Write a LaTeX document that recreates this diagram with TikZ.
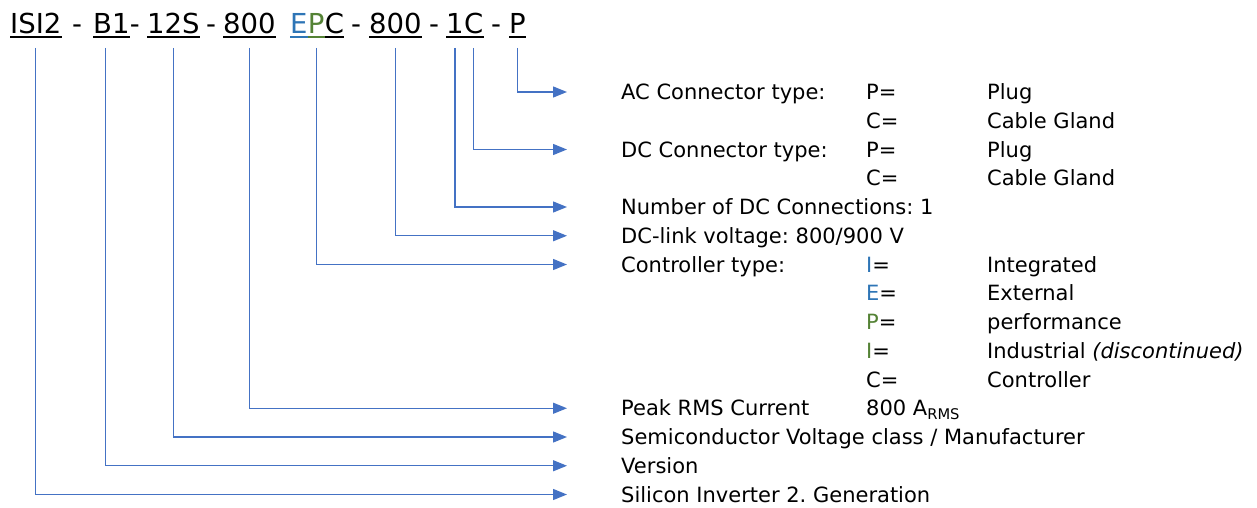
\documentclass[tikz,border=0pt]{standalone}
\usepackage{fontspec}
\setmainfont{DejaVu Sans}
\usetikzlibrary{arrows.meta}

\definecolor{lineblue}{HTML}{4472C4}
\definecolor{codeblue}{HTML}{2E75B6}
\definecolor{codegreen}{HTML}{548235}

\newcommand{\codefont}{\fontsize{27.5}{33}\selectfont}
\newcommand{\rowfont}{\fontsize{21}{25}\selectfont}
\frenchspacing

\tikzset{
  code/.style={anchor=base west, inner sep=0pt, font=\codefont},
  row/.style={anchor=west, inner sep=0pt, text height=15.3pt, text depth=0pt, font=\rowfont},
  uline/.style={line width=2pt},
  conn/.style={color=lineblue, line width=1.3pt, -{Triangle[length=14pt,width=11pt]}, shorten >=54pt},
}

\begin{document}
\begin{tikzpicture}[x=1pt,y=-1pt]
  \useasboundingbox (0,0) rectangle (1257,508);
  % type code
  \path
    (10,34) node[code] (isi){ISI2}
    (72,34) node[code] (d1){-}
    (93,34) node[code] (ver){B1}
    (ver.base east) node[code] (d2){-}
    (147,34) node[code] (semi){12S}
    (206,34) node[code] (d3){-}
    (223,34) node[code] (cur){800}
    (290,34) node[code, codeblue] (ctrle){E}
    (ctrle.base east) node[code, codegreen] (ctrlp){P}
    (ctrlp.base east) node[code] (ctrlc){C}
    (351,34) node[code] (d4){-}
    (369,34) node[code] (link){800}
    (429,34) node[code] (d5){-}
    (446,34) node[code] (dcnum){1}
    (dcnum.base east) node[code] (dctype){C}
    (491,34) node[code] (d6){-}
    (509,34) node[code] (acc){P};
  \foreach \n in {isi,ver,semi,cur,ctrlc,link,acc}
    \draw[uline] ([yshift=-3.5pt]\n.base west) -- ([yshift=-3.5pt]\n.base east);
  \draw[uline, codeblue] ([yshift=-3.5pt]ctrle.base west) -- ([yshift=-3.5pt]ctrle.base east);
  \draw[uline, codegreen] ([yshift=-3.5pt]ctrlp.base west) -- ([yshift=-3.5pt]ctrlp.base east);
  \draw[uline] ([yshift=-3.5pt]dcnum.base west) -- ([yshift=-3.5pt]dctype.base east);
  % explanations
  \path
    (621,92) node[row] (acrow){AC Connector type:}
    (866,92) node[row] (acp){P=}
    (987,92) node[row] (acpd){Plug}
    (866,120.75) node[row] (acc2){C=}
    (987,120.75) node[row] (accd){Cable Gland}
    (621,149.5) node[row] (dcrow){DC Connector type:}
    (866,149.5) node[row] (dcp){P=}
    (987,149.5) node[row] (dcpd){Plug}
    (866,178.25) node[row] (dcc){C=}
    (987,178.25) node[row] (dccd){Cable Gland}
    (621,207) node[row] (numrow){Number of DC Connections: 1}
    (621,235.75) node[row] (linkrow){DC-link voltage: 800/900 V}
    (621,264.5) node[row] (ctrlrow){Controller type:}
    (866,264.5) node[row] (ci){{\color{codeblue}I}=}
    (987,264.5) node[row] (cid){Integrated}
    (866,293.25) node[row] (ce){{\color{codeblue}E}=}
    (987,293.25) node[row] (ced){External}
    (866,322) node[row] (cp){{\color{codegreen}P}=}
    (987,322) node[row] (cpd){performance}
    (866,350.75) node[row] (cind){{\color{codegreen}I}=}
    (987,350.75) node[row] (cindd){Industrial \textit{(discontinued)}}
    (866,379.5) node[row] (cc){C=}
    (987,379.5) node[row] (ccd){Controller}
    (621,408.25) node[row] (currow){Peak RMS Current}
    (866,408.25) node[row] (curval){800 A\textsubscript{RMS}}
    (621,437) node[row] (semirow){Semiconductor Voltage class / Manufacturer}
    (621,465.75) node[row] (verrow){Version}
    (621,494.5) node[row] (genrow){Silicon Inverter 2. Generation};
  \begin{scope}[conn]
    \draw ([yshift=-14pt]acc.base) |- (acrow.west);
    \draw ([yshift=-14pt]dctype.base) |- (dcrow.west);
    \draw ([yshift=-14pt]dcnum.base) |- (numrow.west);
    \draw ([yshift=-14pt]link.base) |- (linkrow.west);
    \draw ([yshift=-14pt]ctrlp.base) |- (ctrlrow.west);
    \draw ([yshift=-14pt]cur.base) |- (currow.west);
    \draw ([yshift=-14pt]semi.base) |- (semirow.west);
    \draw ([xshift=-6pt,yshift=-14pt]ver.base) |- (verrow.west);
    \draw ([yshift=-14pt]isi.base) |- (genrow.west);
  \end{scope}
\end{tikzpicture}
\end{document}
